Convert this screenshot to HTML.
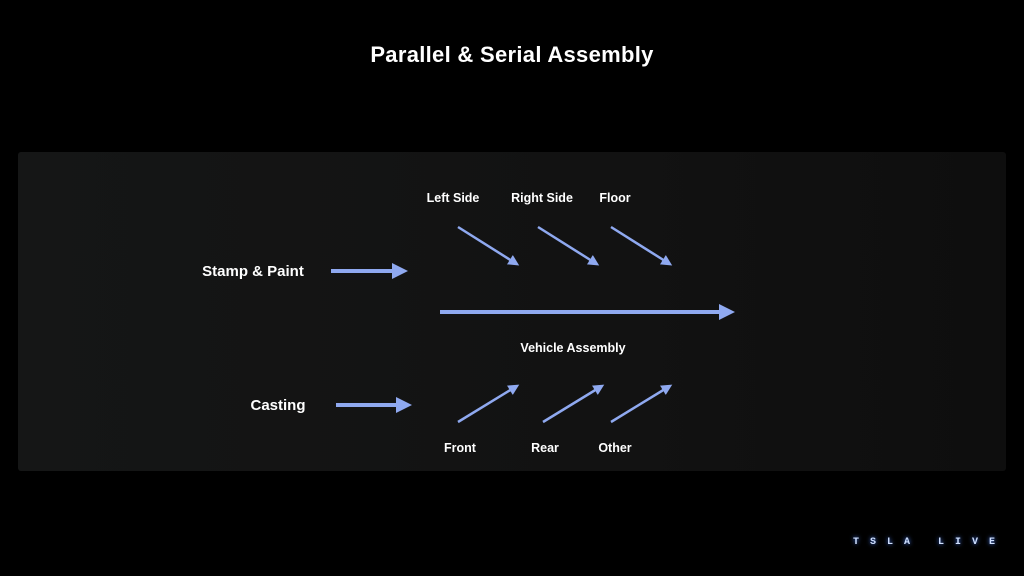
<!DOCTYPE html>
<html><head><style>
body{margin:0;width:1024px;height:576px;background:#000;overflow:hidden;font-family:"Liberation Sans",sans-serif;position:relative}
.panel{position:absolute;left:18px;top:152px;width:988px;height:319px;background:linear-gradient(90deg,#151616,#121212 60%,#0e0e0e);border-radius:3px}
.t{position:absolute;color:#fff;white-space:nowrap;transform:translateX(-50%)}
</style></head><body>
<div class="t" style="left:512px;top:42px;font-size:22px;font-weight:bold;letter-spacing:0.3px">Parallel &amp; Serial Assembly</div>
<div class="panel"></div>
<div class="t" style="left:453px;top:191px;font-size:12.5px;font-weight:bold">Left Side</div>
<div class="t" style="left:542px;top:191px;font-size:12.5px;font-weight:bold">Right Side</div>
<div class="t" style="left:615px;top:191px;font-size:12.5px;font-weight:bold">Floor</div>
<div class="t" style="left:253px;top:263px;font-size:15px;font-weight:bold">Stamp &amp; Paint</div>
<div class="t" style="left:573px;top:341px;font-size:12.5px;font-weight:bold">Vehicle Assembly</div>
<div class="t" style="left:278px;top:397px;font-size:15px;font-weight:bold">Casting</div>
<div class="t" style="left:460px;top:441px;font-size:12.5px;font-weight:bold">Front</div>
<div class="t" style="left:545px;top:441px;font-size:12.5px;font-weight:bold">Rear</div>
<div class="t" style="left:615px;top:441px;font-size:12.5px;font-weight:bold">Other</div>
<svg width="1024" height="576" style="position:absolute;left:0;top:0">
<defs><marker id="h" markerWidth="4" markerHeight="4" refX="0" refY="2" orient="auto" markerUnits="strokeWidth"><path d="M0,0 L4,2 L0,4z" fill="#8fa9f0"/></marker>
<marker id="s" markerWidth="4.4" markerHeight="4.4" refX="1" refY="2.2" orient="auto" markerUnits="strokeWidth"><path d="M0,0 L4.4,2.2 L0,4.4z" fill="#8fa9f0"/></marker></defs>
<g stroke="#8fa9f0" fill="none">
<line x1="331" y1="271" x2="392" y2="271" stroke-width="4" marker-end="url(#h)"/>
<line x1="440" y1="312" x2="719" y2="312" stroke-width="4" marker-end="url(#h)"/>
<line x1="336" y1="405" x2="396" y2="405" stroke-width="4" marker-end="url(#h)"/>
<line x1="458" y1="227" x2="512" y2="261" stroke-width="2.5" marker-end="url(#s)"/>
<line x1="538" y1="227" x2="592" y2="261" stroke-width="2.5" marker-end="url(#s)"/>
<line x1="611" y1="227" x2="665" y2="261" stroke-width="2.5" marker-end="url(#s)"/>
<line x1="458" y1="422" x2="512" y2="389" stroke-width="2.5" marker-end="url(#s)"/>
<line x1="543" y1="422" x2="597" y2="389" stroke-width="2.5" marker-end="url(#s)"/>
<line x1="611" y1="422" x2="665" y2="389" stroke-width="2.5" marker-end="url(#s)"/>
</g>
<text x="853" y="544" fill="#cfe0ff" font-family="Liberation Mono,monospace" font-weight="bold" font-size="10" letter-spacing="11" style="filter:drop-shadow(0 0 2px #4a80ff)">TSLA LIVE</text>
</svg>
</body></html>
